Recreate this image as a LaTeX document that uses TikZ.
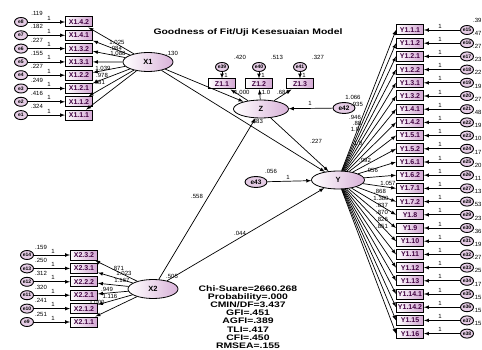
\documentclass[tikz,border=0pt]{standalone}
\usepackage{fontspec}
\setmainfont{Liberation Sans}
\newfontfamily\widefont{Liberation Sans}[FakeStretch=1.3]
\usepackage{tikz}
\usetikzlibrary{shapes,arrows,positioning}
\tikzstyle{latent} = [ellipse, draw, line width=0.8pt, left color=white, right color=violet!30,
    minimum width=50pt, minimum height=19pt, inner sep=0pt, font=\bfseries\fontsize{7.5}{7.5}\selectfont]
\tikzstyle{indicator} = [rectangle, draw, line width=1pt, left color=white, right color=violet!35,
    minimum width=27pt, minimum height=10pt, inner sep=0pt, text=violet!50!black,
    font=\bfseries\fontsize{7}{7}\selectfont]
\tikzstyle{err} = [ellipse, draw, line width=0.9pt, fill=violet!20, minimum width=13pt,
    minimum height=9pt, inner sep=0pt, font=\bfseries\fontsize{5}{5}\selectfont]
\tikzstyle{bigerr} = [err, minimum width=22pt, minimum height=11pt, font=\bfseries\fontsize{6.5}{6.5}\selectfont]
\tikzstyle{arrow} = [draw, -latex, line width=0.7pt]
\tikzstyle{num} = [inner sep=0pt, font=\fontsize{6}{6}\selectfont]
\tikzstyle{heading} = [inner sep=0pt, font=\widefont\bfseries\fontsize{8}{8}\selectfont]
\tikzstyle{fitstat} = [inner sep=0pt, align=center, font=\widefont\bfseries\fontsize{8}{8.2}\selectfont]

\begin{document}
\begin{tikzpicture}[x=1pt, y=-1pt]
  \useasboundingbox (0,0) rectangle (482,350);
  % Place nodes
  \node [heading] (heading) at (248,32) {Goodness of Fit/Uji Kesesuaian Model};
  \node [latent] (X1) at (148,62) {X1};
  \node [latent] (X2) at (153,289) {X2};
  \node [latent, minimum width=55pt, minimum height=18pt] (Z) at (261,109) {Z};
  \node [latent, minimum width=53pt, minimum height=18pt] (Y) at (338,180) {Y};
  \node [bigerr] (e42) at (344,108) {e42};
  \node [bigerr] (e43) at (256,182) {e43};

  % X1 block
  \foreach \lbl/\ev/\vv [count=\i from 0] in {X1.4.2/8/.119, X1.4.1/7/.182, X1.3.2/6/.227, X1.3.1/5/.155,
      X1.2.2/4/.227, X1.2.1/3/.249, X1.1.2/2/.416, X1.1.1/1/.324} {
    \node [indicator] (xa\i) at (79,22+13.3*\i) {\lbl};
    \node [err, left of=xa\i, node distance=58pt] (e\ev) {e\ev};
    \node [num] at (37,13.5+13.3*\i) {\vv};
    \node [num] at (49,18+13.3*\i) {1};
    \path [arrow] (e\ev) -- (xa\i);
    \path [arrow] (X1) -- (xa\i);
  }

  % X2 block
  \foreach \lbl/\ev/\vv [count=\i from 0] in {X2.3.2/14/.159, X2.3.1/13/.250, X2.2.2/12/.312,
      X2.2.1/11/.320, X2.1.2/10/.241, X2.1.1/9/.251} {
    \node [indicator] (xb\i) at (84,255+13.4*\i) {\lbl};
    \node [err, left of=xb\i, node distance=57pt] (e\ev) {e\ev};
    \node [num] at (41,247+13.4*\i) {\vv};
    \node [num] at (53,251+13.4*\i) {1};
    \path [arrow] (e\ev) -- (xb\i);
    \path [arrow] (X2) -- (xb\i);
  }

  % Z block
  \foreach \lbl/\ev/\vv/\xx in {Z1.1/39/.420/222, Z1.2/40/.513/259, Z1.3/41/.327/300} {
    \node [indicator] (z\ev) at (\xx,84) {\lbl};
    \node [err] (e\ev) at (\xx,67) {e\ev};
    \node [num] at (\xx+18,57) {\vv};
    \node [num] at (\xx+4,75) {1};
    \path [arrow] (e\ev) -- (z\ev);
    \path [arrow] (Z) -- (z\ev);
  }

  % Y block
  \foreach \lbl/\ev/\vv [count=\i from 0] in {Y1.1.1/15/.39, Y1.1.2/16/.47, Y1.2.1/17/.27, Y1.2.2/18/.23,
      Y1.3.1/19/.22, Y1.3.2/20/.19, Y1.4.1/21/.27, Y1.4.2/22/.48, Y1.5.1/23/.19, Y1.5.2/24/.10,
      Y1.6.1/25/.17, Y1.6.2/26/.20, Y1.7.1/27/.11, Y1.7.2/28/.13, Y1.8/29/.53, Y1.9/30/.23,
      Y1.10/31/.36, Y1.11/32/.19, Y1.12/33/.27, Y1.13/34/.25, Y1.14.1/35/.17, Y1.14.2/36/.15,
      Y1.15/37/.15, Y1.16/38/.15} {
    \node [indicator] (y\i) at (410,30+13.2*\i) {\lbl};
    \node [err, right of=y\i, node distance=57pt] (e\ev) {e\ev};
    \node [num, anchor=west] at (473,20+13.2*\i) {\vv};
    \node [num] at (440,26+13.2*\i) {1};
    \path [arrow] (e\ev) -- (y\i);
    \path [arrow] (Y) -- (y\i.west);
  }

  \node [fitstat] (stats) at (248,317) {Chi-Suare=2660.268\\Probability=.000\\CMIN/DF=3.437\\GFI=.451\\AGFI=.389\\TLI=.417\\CFI=.450\\RMSEA=.155};

  % structural paths
  \path [arrow] (X1) -- (Z);
  \path [arrow] (X1) -- (Y);
  \path [arrow] (X2) -- (Z);
  \path [arrow] (X2) -- (Y);
  \path [arrow] (Z) -- (Y);
  \path [arrow] (e42) -- (Z);
  \path [arrow] (e43) -- (Y);

  % estimates
  \foreach \xx/\yy/\txt in {172/53/.130, 172/276/.505, 271/171/.056, 310/103/1, 288/177/1,
      257/121/.683, 316/141/.227, 197/196/.558, 240/233/.044,
      117/42/1.025, 116/48/.084, 118/53/1.088, 103/68/1.039, 102/75/.978, 99/82/.981,
      118/268/.871, 124/273/1.023, 122/280/1.167, 107/289/.949, 110/296/1.116, 97/302/1.000,
      242/92/1.000, 266/92/1.0, 283/92/.684,
      353/97/1.066, 357/104/.935, 355/117/.946, 357/123/.88, 355/129/1.0, 358/143/1.0,
      365/160/.992, 372/170/.956, 388/183/1.057, 380/191/.868, 381/198/1.380, 382/205/.837,
      382/212/.870, 382/219/.826, 382/226/.851} {
    \node [num] at (\xx,\yy) {\txt};
  }
\end{tikzpicture}
\end{document}
